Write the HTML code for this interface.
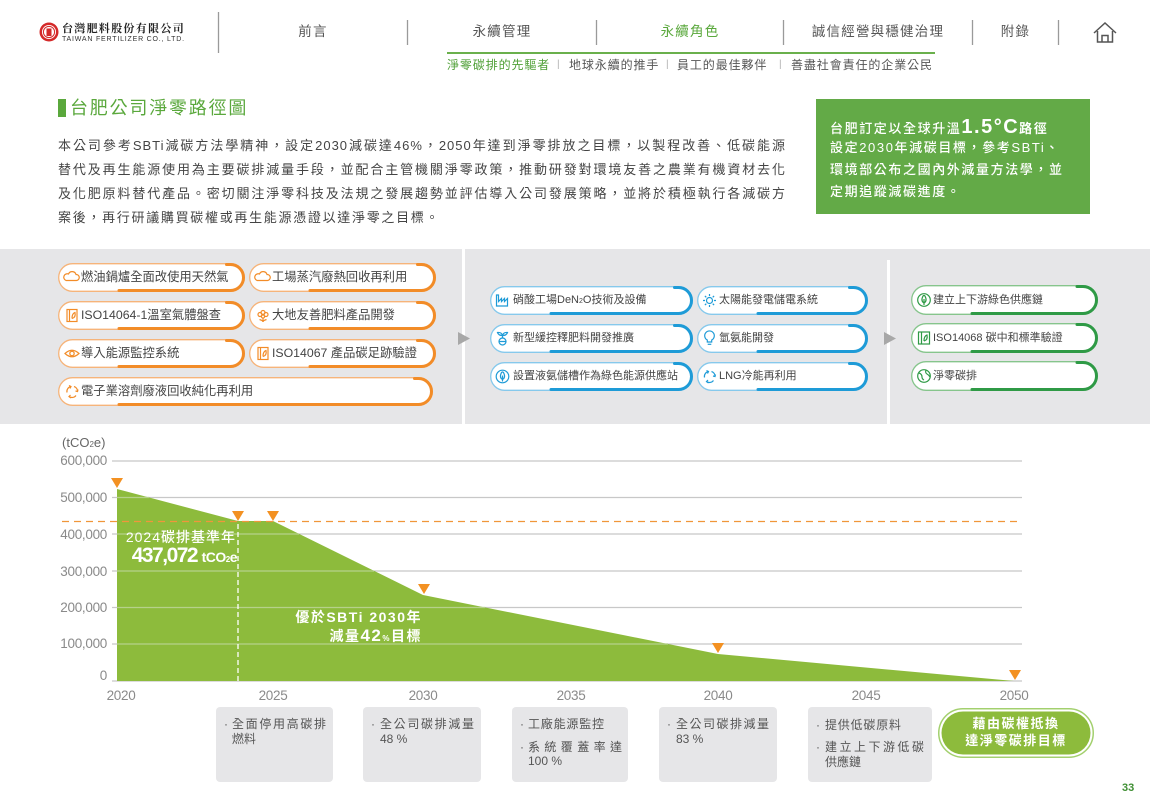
<!DOCTYPE html>
<html lang="zh-Hant"><head><meta charset="utf-8">
<style>
body{margin:0;background:#fff}
#p{position:relative;width:1150px;height:807px;overflow:hidden;background:#fff;font-family:"Liberation Sans","Noto Sans CJK TC",sans-serif;color:#444}
#p svg{position:absolute;left:0;top:0}
.t{position:absolute;white-space:nowrap}
.nav{position:absolute;top:22px;height:20px;line-height:20px;text-align:center;font-size:13.5px;letter-spacing:1.2px;color:#555;white-space:nowrap}
.sub{position:absolute;top:57px;line-height:16px;font-size:12px;letter-spacing:0.9px;color:#555;white-space:nowrap}
.bar{position:absolute;top:57px;line-height:16px;font-size:10px;color:#b0b0b0}
.pl{position:absolute;left:58px;width:728px;font-size:13px;letter-spacing:1px;line-height:24px;color:#444;text-align:justify;text-align-last:justify}
.gb{position:absolute;left:830px;font-size:13px;letter-spacing:1.6px;line-height:22px;color:#fff;font-weight:500;white-space:nowrap}
.pt{position:absolute;white-space:nowrap;color:#444;line-height:29px}
.lp{font-size:12.3px}
.mp{font-size:11px}
.yl{position:absolute;right:1043px;font-size:13.5px;letter-spacing:-0.3px;line-height:16px;color:#8a8a8a;white-space:nowrap}
.xl{position:absolute;top:688px;width:60px;text-align:center;font-size:13.5px;letter-spacing:-0.3px;line-height:16px;color:#8a8a8a}
.bx{position:absolute;font-size:12px;line-height:15px;color:#555;white-space:nowrap}
.bj{position:absolute;font-size:12px;line-height:15px;color:#555;text-align:justify;text-align-last:justify}
.bu{position:absolute;font-size:12px;line-height:15px;color:#555}
</style></head><body><div id="p">
<svg width="1150" height="807" viewBox="0 0 1150 807">
<circle cx="49" cy="32" r="9.5" fill="#d42a2a"/>
<circle cx="49" cy="32" r="7" fill="#fff"/>
<circle cx="49" cy="32" r="5.6" fill="none" stroke="#d42a2a" stroke-width="1"/>
<path d="M46.5 28.5h5v7.5h-5z" fill="#d42a2a"/>
<g stroke="#9a9a9a" stroke-width="1.3">
<line x1="218.5" y1="12" x2="218.5" y2="53"/>
<line x1="407.5" y1="20" x2="407.5" y2="45"/>
<line x1="596.5" y1="20" x2="596.5" y2="45"/>
<line x1="783.5" y1="20" x2="783.5" y2="45"/>
<line x1="972.5" y1="20" x2="972.5" y2="45"/>
<line x1="1058.5" y1="20" x2="1058.5" y2="45"/>
</g>
<rect x="447" y="52" width="488" height="2" fill="#6ab04c"/>
<g fill="none" stroke="#555" stroke-width="1.5"><path d="M1094 33 L1105 23 L1116 33"/><path d="M1097.5 31 V42 H1112.5 V31"/><path d="M1102 42 V35.5 H1108 V42"/></g>
<rect x="58" y="99" width="8" height="18" fill="#5aa83c"/>
<rect x="816" y="99" width="274" height="115" fill="#63aa47"/>
<rect x="0" y="249" width="1150" height="175" fill="#e6e6e8"/>
<rect x="462" y="249" width="3" height="175" fill="#fff"/>
<rect x="887" y="260" width="3" height="164" fill="#fff"/>
<polygon points="458,332 458,345 470,338.5" fill="#a8a8a8"/>
<polygon points="884,332 884,345 896,338.5" fill="#a8a8a8"/>

<g fill="#fff" stroke="#f6b47a" stroke-width="1.3">
<rect x="58.7" y="263.7" width="185.6" height="27.6" rx="13.8"/>
<rect x="249.7" y="263.7" width="185.6" height="27.6" rx="13.8"/>
<rect x="58.7" y="301.7" width="185.6" height="27.6" rx="13.8"/>
<rect x="249.7" y="301.7" width="185.6" height="27.6" rx="13.8"/>
<rect x="58.7" y="339.7" width="185.6" height="27.6" rx="13.8"/>
<rect x="249.7" y="339.7" width="185.6" height="27.6" rx="13.8"/>
<rect x="58.7" y="377.7" width="373.6" height="27.6" rx="13.8"/>
</g>
<g fill="none" stroke="#f28c28" stroke-width="3" stroke-linecap="round">
<path d="M119 290.5 L230.5 290.5 A13 13 0 0 0 230.5 264.5 L226.5 264.5"/>
<path d="M310 290.5 L421.5 290.5 A13 13 0 0 0 421.5 264.5 L417.5 264.5"/>
<path d="M119 328.5 L230.5 328.5 A13 13 0 0 0 230.5 302.5 L226.5 302.5"/>
<path d="M310 328.5 L421.5 328.5 A13 13 0 0 0 421.5 302.5 L417.5 302.5"/>
<path d="M119 366.5 L230.5 366.5 A13 13 0 0 0 230.5 340.5 L226.5 340.5"/>
<path d="M310 366.5 L421.5 366.5 A13 13 0 0 0 421.5 340.5 L417.5 340.5"/>
<path d="M119 404.5 L418.5 404.5 A13 13 0 0 0 418.5 378.5 L414.5 378.5"/>
</g>
<g fill="none" stroke="#f28c28" stroke-width="1.2">
<path transform="translate(72,277.5)" d="M-6 3 H4.5 A3 3 0 0 0 4 -3 A4 4 0 0 0 -3.5 -3.5 A3.3 3.3 0 0 0 -6 3 Z"/>
<path transform="translate(263,277.5)" d="M-6 3 H4.5 A3 3 0 0 0 4 -3 A4 4 0 0 0 -3.5 -3.5 A3.3 3.3 0 0 0 -6 3 Z"/>
<g transform="translate(72,315.5)"><rect x="-5" y="-6" width="10" height="12"/><path d="M-2.5 -6 V6 M0 3 Q0 -2 3 -3 Q4 2 0 3"/></g>
<g transform="translate(263,315.5)"><circle cx="0" cy="-3" r="2"/><circle cx="-3" cy="-1" r="2"/><circle cx="3" cy="-1" r="2"/><circle cx="0" cy="1" r="1.6"/><path d="M0 2.5 V6.5 M-3.5 4 Q0 5 0 6.5 M3.5 4 Q0 5 0 6.5"/></g>
<g transform="translate(72,353.5)"><path d="M-7 0 Q0 -6.5 7 0 Q0 6.5 -7 0Z"/><circle r="2.2"/></g>
<g transform="translate(263,353.5)"><rect x="-5" y="-6" width="10" height="12"/><path d="M-2.5 -6 V6 M0 3 Q0 -2 3 -3 Q4 2 0 3"/></g>
<g transform="translate(72,391.5)"><path d="M-5 1 A5 5 0 0 1 -1 -5"/><path d="M2 -5 A5 5 0 0 1 5.5 0"/><path d="M4 4 A5 5 0 0 1 -3 5"/><path d="M-3 -6 L-1 -5 L-2 -3"/><path d="M6 -2 L5.5 0 L3.5 -0.5"/><path d="M-1 6.5 L-3 5 L-1.5 3.5"/></g>
</g>

<g fill="#fff" stroke="#86c9ec" stroke-width="1.3">
<rect x="490.7" y="286.7" width="201.6" height="27.6" rx="13.8"/>
<rect x="697.7" y="286.7" width="169.6" height="27.6" rx="13.8"/>
<rect x="490.7" y="324.7" width="201.6" height="27.6" rx="13.8"/>
<rect x="697.7" y="324.7" width="169.6" height="27.6" rx="13.8"/>
<rect x="490.7" y="362.7" width="201.6" height="27.6" rx="13.8"/>
<rect x="697.7" y="362.7" width="169.6" height="27.6" rx="13.8"/>
</g>
<g fill="none" stroke="#1e9bd7" stroke-width="3" stroke-linecap="round">
<path d="M551 313.5 L678.5 313.5 A13 13 0 0 0 678.5 287.5 L674.5 287.5"/>
<path d="M758 313.5 L853.5 313.5 A13 13 0 0 0 853.5 287.5 L849.5 287.5"/>
<path d="M551 351.5 L678.5 351.5 A13 13 0 0 0 678.5 325.5 L674.5 325.5"/>
<path d="M758 351.5 L853.5 351.5 A13 13 0 0 0 853.5 325.5 L849.5 325.5"/>
<path d="M551 389.5 L678.5 389.5 A13 13 0 0 0 678.5 363.5 L674.5 363.5"/>
<path d="M758 389.5 L853.5 389.5 A13 13 0 0 0 853.5 363.5 L849.5 363.5"/>
</g>
<g fill="none" stroke="#1e9bd7" stroke-width="1.2">
<path transform="translate(502.5,300.5)" d="M-6 5.5 V-5.5 H-4 V1 L-1 -2 V1 L2 -2 V1 L5 -2 V5.5 Z"/>
<g transform="translate(709.5,300.5)"><circle r="3"/><path d="M0 -6.5V-4.5M0 4.5V6.5M-6.5 0H-4.5M4.5 0H6.5M-4.6 -4.6L-3.2 -3.2M3.2 3.2L4.6 4.6M-4.6 4.6L-3.2 3.2M3.2 -3.2L4.6 -4.6"/></g>
<g transform="translate(502.5,338.5)"><circle cx="0" cy="3" r="3.5"/><path d="M-3.5 3H3.5M0 -0.5V-3M0 -3 Q-4 -3 -5 -6 Q-1 -6.5 0 -3 M0 -3 Q4 -3 5 -6 Q1 -6.5 0 -3"/></g>
<g transform="translate(709.5,338.5)"><path d="M-2.2 3.5 V1.5 A4.8 4.8 0 1 1 2.2 1.5 V3.5 Z"/><path d="M-1.8 5.8 H1.8"/></g>
<g transform="translate(502.5,376.5)"><circle r="6.3"/><path d="M0 5 V-1 M0 3 Q-3.5 1 -1 -4 Q0 -5 1 -4 Q3.5 1 0 3"/></g>
<g transform="translate(709.5,376.5)"><path d="M-5 1 A5 5 0 0 1 -1 -5"/><path d="M2 -5 A5 5 0 0 1 5.5 0"/><path d="M4 4 A5 5 0 0 1 -3 5"/><path d="M-3 -6 L-1 -5 L-2 -3"/><path d="M6 -2 L5.5 0 L3.5 -0.5"/><path d="M-1 6.5 L-3 5 L-1.5 3.5"/></g>
</g>

<g fill="#fff" stroke="#86c58c" stroke-width="1.3">
<rect x="911.7" y="285.7" width="185.6" height="28.6" rx="14.3"/>
<rect x="911.7" y="323.7" width="185.6" height="28.6" rx="14.3"/>
<rect x="911.7" y="361.7" width="185.6" height="28.6" rx="14.3"/>
</g>
<g fill="none" stroke="#2f9a46" stroke-width="3" stroke-linecap="round">
<path d="M972 313.5 L1083 313.5 A13.5 13.5 0 0 0 1083 286.5 L1077 286.5"/>
<path d="M972 351.5 L1083 351.5 A13.5 13.5 0 0 0 1083 324.5 L1077 324.5"/>
<path d="M972 389.5 L1083 389.5 A13.5 13.5 0 0 0 1083 362.5 L1077 362.5"/>
</g>
<g fill="none" stroke="#2f9a46" stroke-width="1.2">
<g transform="translate(924,300)"><circle r="6.3"/><path d="M0 5 V-1 M0 3 Q-3.5 1 -1 -4 Q0 -5 1 -4 Q3.5 1 0 3"/></g>
<g transform="translate(924,338)"><rect x="-5.5" y="-6" width="11" height="12"/><path d="M-2.5 -6 V6 M0 3 Q0 -2 3 -3 Q4 2 0 3"/></g>
<g transform="translate(924,376)"><circle r="6.3"/><path d="M-5 -3 Q-2 -2 -2 1 Q-2 3 0 4 M2 -6 Q1 -3 3 -2 Q5 -1 6 1"/></g>
</g>

<g stroke="#c8c8c8" stroke-width="1.3">
<line x1="112" y1="461" x2="1022" y2="461"/>
<line x1="112" y1="497.5" x2="1022" y2="497.5"/>
<line x1="112" y1="534" x2="1022" y2="534"/>
<line x1="112" y1="571" x2="1022" y2="571"/>
<line x1="112" y1="607.5" x2="1022" y2="607.5"/>
<line x1="112" y1="644" x2="1022" y2="644"/>
<line x1="112" y1="681" x2="1022" y2="681"/>
</g>
<polygon points="117,681 117,489 238,521 273,521 423,595 718,654 1014,681" fill="#8dbb3c"/>
<g stroke="#b6d18a" stroke-width="1.2">
<line x1="117" y1="497.5" x2="149" y2="497.5"/>
<line x1="117" y1="534" x2="299" y2="534"/>
<line x1="117" y1="571" x2="374" y2="571"/>
<line x1="117" y1="607.5" x2="485" y2="607.5"/>
<line x1="117" y1="644" x2="668" y2="644"/>
</g>
<line x1="62" y1="521.5" x2="1022" y2="521.5" stroke="#f0963a" stroke-width="1.3" stroke-dasharray="7 5"/>
<line x1="238" y1="524" x2="238" y2="681" stroke="#fff" stroke-width="1.3" stroke-dasharray="5 3"/>
<g fill="#f39122">
<polygon points="111,478 123,478 117,488"/>
<polygon points="232,511 244,511 238,521"/>
<polygon points="267,511 279,511 273,521"/>
<polygon points="418,584 430,584 424,594"/>
<polygon points="712,643 724,643 718,653"/>
<polygon points="1009,670 1021,670 1015,680"/>
</g>

<g fill="#e6e6e8">
<rect x="216" y="707" width="117" height="75" rx="4"/>
<rect x="363" y="707" width="118" height="75" rx="4"/>
<rect x="512" y="707" width="116" height="75" rx="4"/>
<rect x="659" y="707" width="118" height="75" rx="4"/>
<rect x="808" y="707" width="124" height="75" rx="4"/>
</g>
<rect x="938.75" y="708.75" width="154.5" height="48.5" rx="24.25" fill="#fff" stroke="#a3d06e" stroke-width="1.5"/>
<rect x="941.5" y="711.5" width="149" height="43" rx="21.5" fill="#8dbb3c"/>
</svg>

<div class="t" style="left:62px;top:22px;font-size:11px;line-height:14px;letter-spacing:1.3px;font-weight:bold;color:#222;font-family:'Liberation Serif','Noto Serif CJK SC',serif">台灣肥料股份有限公司</div>
<div class="t" style="left:62px;top:36px;font-size:7px;line-height:8px;letter-spacing:0.8px;color:#333">TAIWAN FERTILIZER CO., LTD.</div>
<div class="nav" style="left:219px;width:188px">前言</div>
<div class="nav" style="left:408px;width:188px">永續管理</div>
<div class="nav" style="left:597px;width:186px;color:#5aa83c">永續角色</div>
<div class="nav" style="left:784px;width:188px">誠信經營與穩健治理</div>
<div class="nav" style="left:973px;width:85px">附錄</div>
<div class="sub" style="left:447px;color:#4e9f35">淨零碳排的先驅者</div>
<div class="bar" style="left:557px">|</div>
<div class="sub" style="left:569px">地球永續的推手</div>
<div class="bar" style="left:666px">|</div>
<div class="sub" style="left:677px">員工的最佳夥伴</div>
<div class="bar" style="left:779px">|</div>
<div class="sub" style="left:791px">善盡社會責任的企業公民</div>

<div class="t" style="left:70px;top:96px;font-size:18px;line-height:24px;letter-spacing:1.8px;color:#5aa83c">台肥公司淨零路徑圖</div>
<div class="pl" style="top:134px">本公司參考SBTi減碳方法學精神，設定2030減碳達46%，2050年達到淨零排放之目標，以製程改善、低碳能源</div>
<div class="pl" style="top:158px">替代及再生能源使用為主要碳排減量手段，並配合主管機關淨零政策，推動研發對環境友善之農業有機資材去化</div>
<div class="pl" style="top:182px">及化肥原料替代產品。密切關注淨零科技及法規之發展趨勢並評估導入公司發展策略，並將於積極執行各減碳方</div>
<div class="pl" style="top:206px;text-align-last:left;letter-spacing:1.7px">案後，再行研議購買碳權或再生能源憑證以達淨零之目標。</div>

<div class="gb" style="top:114px;line-height:26px">台肥訂定以全球升溫<span style="font-size:20px;letter-spacing:1.5px;font-weight:bold">1.5°C</span><span style="font-weight:bold">路徑</span></div>
<div class="gb" style="top:137px">設定2030年減碳目標，參考SBTi、</div>
<div class="gb" style="top:159px">環境部公布之國內外減量方法學，並</div>
<div class="gb" style="top:181px">定期追蹤減碳進度。</div>

<div class="pt lp" style="left:81px;top:263px">燃油鍋爐全面改使用天然氣</div>
<div class="pt lp" style="left:272px;top:263px">工場蒸汽廢熱回收再利用</div>
<div class="pt lp" style="left:81px;top:301px">ISO14064-1溫室氣體盤查</div>
<div class="pt lp" style="left:272px;top:301px">大地友善肥料產品開發</div>
<div class="pt lp" style="left:81px;top:339px">導入能源監控系統</div>
<div class="pt lp" style="left:272px;top:339px">ISO14067 產品碳足跡驗證</div>
<div class="pt lp" style="left:81px;top:377px">電子業溶劑廢液回收純化再利用</div>

<div class="pt mp" style="left:513px;top:286px">硝酸工場DeN<span style="font-size:7px">2</span>O技術及設備</div>
<div class="pt mp" style="left:719px;top:286px">太陽能發電儲電系統</div>
<div class="pt mp" style="left:513px;top:324px">新型緩控釋肥料開發推廣</div>
<div class="pt mp" style="left:719px;top:324px">氫氨能開發</div>
<div class="pt mp" style="left:513px;top:362px">設置液氨儲槽作為綠色能源供應站</div>
<div class="pt mp" style="left:719px;top:362px">LNG冷能再利用</div>

<div class="pt mp" style="left:933px;top:285px;line-height:30px">建立上下游綠色供應鏈</div>
<div class="pt mp" style="left:933px;top:323px;line-height:30px">ISO14068 碳中和標準驗證</div>
<div class="pt mp" style="left:933px;top:361px;line-height:30px">淨零碳排</div>

<div class="t" style="left:62px;top:435px;font-size:13px;line-height:16px;color:#666">(tCO<span style="font-size:8px">2</span>e)</div>
<div class="yl" style="top:453px">600,000</div>
<div class="yl" style="top:490px">500,000</div>
<div class="yl" style="top:527px">400,000</div>
<div class="yl" style="top:564px">300,000</div>
<div class="yl" style="top:600px">200,000</div>
<div class="yl" style="top:636px">100,000</div>
<div class="yl" style="top:668px">0</div>
<div class="xl" style="left:91px">2020</div>
<div class="xl" style="left:243px">2025</div>
<div class="xl" style="left:393px">2030</div>
<div class="xl" style="left:541px">2035</div>
<div class="xl" style="left:688px">2040</div>
<div class="xl" style="left:836px">2045</div>
<div class="xl" style="left:984px">2050</div>

<div class="t" style="right:914px;top:528px;font-size:14px;line-height:18px;letter-spacing:1px;color:#fff;font-weight:500">2024碳排基準年</div>
<div class="t" style="right:913px;top:544px;line-height:24px;color:#fff"><span style="font-size:21px;font-weight:bold;letter-spacing:-1.5px">437,072</span> <span style="font-size:14px;font-weight:bold;letter-spacing:-0.5px">tCO<span style="font-size:8px">2</span>e</span></div>
<div class="t" style="right:728px;top:608px;font-size:14px;line-height:18px;letter-spacing:1.5px;color:#fff;font-weight:bold">優於SBTi 2030年</div>
<div class="t" style="right:728px;top:626px;font-size:14px;line-height:20px;letter-spacing:1.5px;color:#fff;font-weight:bold">減量<span style="font-size:17px">42</span><span style="font-size:8px">%</span>目標</div>

<div class="bu" style="left:224px;top:717px">·</div>
<div class="bj" style="left:232px;top:717px;width:94px">全面停用高碳排</div>
<div class="bx" style="left:232px;top:732px">燃料</div>

<div class="bu" style="left:371px;top:717px">·</div>
<div class="bj" style="left:380px;top:717px;width:94px">全公司碳排減量</div>
<div class="bx" style="left:380px;top:732px">48 %</div>

<div class="bu" style="left:520px;top:717px">·</div>
<div class="bx" style="left:528px;top:717px;letter-spacing:0.8px">工廠能源監控</div>
<div class="bu" style="left:520px;top:740px">·</div>
<div class="bj" style="left:528px;top:740px;width:94px">系統覆蓋率達</div>
<div class="bx" style="left:528px;top:754px">100 %</div>

<div class="bu" style="left:667px;top:717px">·</div>
<div class="bj" style="left:676px;top:717px;width:93px">全公司碳排減量</div>
<div class="bx" style="left:676px;top:732px">83 %</div>

<div class="bu" style="left:816px;top:718px">·</div>
<div class="bx" style="left:825px;top:718px;letter-spacing:0.8px">提供低碳原料</div>
<div class="bu" style="left:816px;top:740px">·</div>
<div class="bj" style="left:825px;top:740px;width:99px">建立上下游低碳</div>
<div class="bx" style="left:825px;top:755px">供應鏈</div>

<div class="t" style="left:941px;width:150px;text-align:center;top:715px;font-size:13px;line-height:18px;letter-spacing:1.5px;color:#fff;font-weight:bold">藉由碳權抵換</div>
<div class="t" style="left:941px;width:150px;text-align:center;top:732px;font-size:13px;line-height:18px;letter-spacing:1.5px;color:#fff;font-weight:bold">達淨零碳排目標</div>

<div class="t" style="left:1122px;top:781px;font-size:11px;line-height:14px;color:#3f8f33;font-weight:bold">33</div>
</div></body></html>
